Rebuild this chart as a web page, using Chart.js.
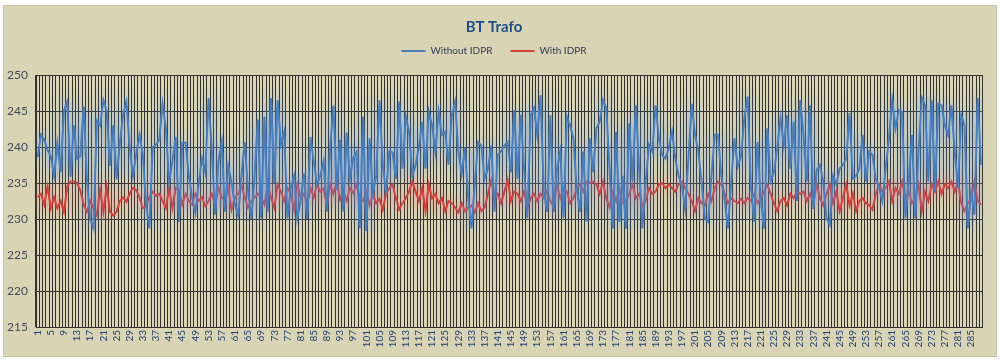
<!DOCTYPE html>
<html>
<head>
<meta charset="utf-8">
<script src="https://cdn.jsdelivr.net/npm/chart.js@4.4.0/dist/chart.umd.min.js"></script>
<style>
html,body{margin:0;padding:0;background:#fff;}
#box{position:absolute;left:3px;top:5px;width:994px;height:352px;background:#d9d4b6;border:1px solid #c9c4a8;box-sizing:border-box;}
</style>
</head>
<body>
<div id="box"><canvas id="myChart"></canvas></div>
<script>
const chartTitle = 'BT Trafo';
const seriesNames = ['Without IDPR', 'With IDPR'];

const withoutIdpr = [
  238.6, 241.7, 241, 239.6, 238.7, 236, 240.5, 236.5, 245.1, 246.3, 235.8, 243, 238.4, 238.7, 245.6, 235.4, 229.9, 228.7, 243.7, 243, 246.5, 245, 237.4, 243, 235.5, 240.5, 244.5,
  246.3, 240, 236, 239, 241.7, 238.9, 232, 228.7, 240, 240.3, 241, 246, 242.6, 235.2, 238, 241.4, 229.6, 240.6, 240.6, 236, 233, 230.8, 235, 238.4, 236.5, 246.8, 239.5, 230.6, 238, 240.7,
  231, 237.3, 235, 232, 230.5, 236, 240.7, 234, 230, 236, 243.8, 230.1, 244.2, 231, 246.8, 235, 246.5, 240.4, 242.1, 230.1, 234.3, 236, 230.1, 232.5, 236.3, 230, 241.4, 238, 234.8, 236,
  238, 231, 240, 245.8, 234, 241, 231, 242, 235.6, 238.5, 239.3, 228.7, 244.2, 228.3, 241.2, 233.6, 236, 246.5, 237.5, 233.6, 239.4, 239.2, 235.6, 246.3, 237, 244.2, 242.1, 236, 237.5, 240,
  243.5, 237, 244.9, 243, 239.4, 244.9, 241.7, 242.1, 237.5, 244.4, 246.3, 239.4, 236.3, 239.9, 233, 228.7, 235, 240.7, 240.2, 235.6, 237, 240.2, 231, 238.9, 239.4, 240.2, 240.7, 236.5, 245.1, 235.6,
  244.5, 236.9, 230.1, 244.4, 245.4, 241.7, 247.2, 233.8, 231, 244.4, 231, 237, 239.4, 230.1, 244.2, 243, 241.2, 234.3, 231, 239.4, 229.6, 241.2, 236.5, 242.6, 243.5, 246.5, 245.4, 237, 228.7, 242.1,
  229.6, 236, 228.7, 243.3, 235.2, 245.8, 237, 228.7, 235.2, 240.3, 239.4, 245.8, 241.2, 238.9, 238.4, 239.8, 242.1, 238.4, 236, 234.6, 231.4, 238.4, 246, 241.7, 239.4, 235.2, 230.1, 229.6, 236, 241.7,
  241.7, 236, 232.8, 228.7, 235.2, 241.2, 237.3, 238.7, 244, 247, 234.6, 229.6, 240.7, 232.8, 228.7, 242.6, 235.2, 236.5, 239.8, 244, 240.3, 244.4, 237, 243.5, 232.5, 246.5, 241.7, 235.2, 245.8, 231.4,
  236.8, 237.5, 235.2, 230.1, 229.2, 236, 234.8, 237, 237.5, 238.4, 244.7, 235.6, 236, 237, 241.7, 235.2, 239.4, 238.9, 235.6, 234.3, 232.5, 237, 241.2, 246.5, 242.6, 245.1, 244.9, 230.1, 235.2, 241.7,
  230.1, 239.4, 246.8, 245.8, 235.2, 246.5, 233.8, 246, 245.8, 243, 241.7, 245.8, 239.4, 234.3, 244.4, 243, 228.7, 233.8, 230.6, 246.8, 237.5
];

const withIdpr = [
  233, 233.5, 232, 234.5, 231.5, 233, 231.5, 232.5, 231, 234.5, 235.2, 235.2, 235, 234, 232, 231, 232.5, 231.5, 230.5, 234, 231, 234.5, 231, 230.5, 231, 232.5, 233,
  232.4, 233.5, 234.3, 234, 233, 231.5, 231.8, 233, 233.8, 233.2, 233.5, 232.5, 231.5, 234.3, 231.5, 234.3, 234, 232, 233.5, 232.5, 232, 233.5, 232.5, 233, 231.8, 232.5, 233.5, 232, 234.3, 233,
  232.5, 234.3, 231.3, 233, 233.5, 234.8, 233, 231.6, 232.5, 233, 233.5, 233, 232, 234.8, 233, 231.6, 234.8, 233.8, 232.5, 234.3, 233.5, 231.3, 234.8, 233, 233.5, 232, 234.3, 233, 234.8, 233.8,
  234.3, 231.9, 234.8, 233.5, 235.2, 232.7, 233.8, 232.5, 234.3, 233.6, 234.8, 232.9, 232.5, 233.8, 231.9, 233.5, 232.2, 232.8, 231.3, 233.5, 234.3, 234.8, 232.9, 231.3, 232.2, 232.9, 233.8, 235.2, 233.8, 232.5,
  234.3, 231.1, 234.8, 232.9, 233.5, 232.2, 232.9, 231.1, 232.5, 232.2, 231.6, 230.9, 232.2, 231.1, 231.6, 231.9, 230.9, 232.2, 231.1, 231.6, 233.5, 235.4, 232.9, 233.5, 232.2, 233.8, 235.4, 232.5, 233.8, 233.5,
  232.5, 233.8, 231.6, 232.9, 233.5, 232.5, 233.5, 232.9, 233.8, 232.5, 231.6, 234.8, 232.9, 234.3, 233.8, 232.2, 232.9, 234.3, 234.8, 233.8, 235.2, 235, 235.2, 234.8, 233.5, 235.2, 232.9, 231.6, 233.8, 232.5,
  234.3, 232.2, 232.5, 233.5, 234.8, 232.9, 233.5, 231.9, 232.5, 234.3, 233.5, 233.8, 234.8, 235, 234.3, 234.8, 234.3, 233.8, 234.8, 235.2, 234.3, 233.5, 232.5, 231.1, 232.9, 232.2, 231.9, 233.5, 232.5, 234.3,
  235.2, 234.8, 233.5, 232.2, 232.9, 232.5, 232.2, 232.8, 232.2, 232.9, 232.5, 233.5, 232.2, 232.9, 233.8, 234.8, 233.5, 232.2, 231.1, 232.5, 232.9, 231.9, 233.5, 232.9, 233.8, 233.5, 233.8, 232.5, 233.5, 232.2,
  234.8, 232.9, 231.9, 233.5, 234.8, 232.2, 233.8, 231.1, 232.9, 234.8, 231.9, 233.5, 231.1, 232.5, 232.9, 232.2, 231.9, 231.3, 233.5, 234.8, 233.8, 234.3, 235.2, 232.5, 234.3, 233.5, 235.2, 232.9, 233.8, 232.2,
  232.9, 234.8, 231.1, 233.8, 232.5, 234.8, 233.8, 235.2, 233.5, 234.8, 234.3, 235.2, 233.8, 235.2, 232.2, 231.1, 232.2, 232.9, 235.2, 232.5, 232
];

// x labels are the sample numbers 1..n
const categories = withoutIdpr.map((v, i) => String(i + 1));
const yMin = 215, yMax = 250, yStep = 5;

const gridCol = '#33332b';

// soft glow round the lines, like the Excel effect
const glow = {
  id: 'glow',
  beforeDatasetDraw(chart, args) {
    const c = chart.ctx;
    c.save();
    c.shadowColor = args.index === 0 ? 'rgba(90,150,235,1)' : 'rgba(240,110,110,0.9)';
    c.shadowBlur = 14;
  },
  afterDatasetDraw(chart) {
    chart.ctx.restore();
  }
};

// wide gaps between legend items but legend sits close under the title
const legendTweak = {
  id: 'legendTweak',
  beforeInit(chart) {
    const lg = chart.legend;
    const fit = lg.fit;
    lg.fit = function () {
      fit.bind(lg)();
      this.height -= 3;
    };
    const draw = lg.draw;
    lg.draw = function () {
      const c = this.ctx;
      c.save();
      c.translate(0, -12);
      draw.apply(this, arguments);
      c.restore();
    };
  }
};

const ctx = document.getElementById('myChart');
new Chart(ctx, {
  type: 'line',
  data: {
    labels: categories,
    datasets: [{
      label: seriesNames[0],
      data: withoutIdpr,
      borderColor: '#4a7ebb',
      backgroundColor: '#4a7ebb',
      borderWidth: 2,
      pointRadius: 0,
      tension: 0
    }, {
      label: seriesNames[1],
      data: withIdpr,
      borderColor: '#d0413d',
      backgroundColor: '#d0413d',
      borderWidth: 2,
      pointRadius: 0,
      tension: 0
    }]
  },
  options: {
    responsive: true,
    maintainAspectRatio: false,
    animation: false,
    layout: { padding: { left: 0, right: 12, top: 0, bottom: 0 } },
    plugins: {
      title: {
        display: true,
        text: chartTitle,
        color: '#1f4e86',
        font: { family: 'Lato', size: 15, weight: 'bold' },
        padding: { top: 12, bottom: 4 }
      },
      legend: {
        labels: {
          color: '#2f3b52',
          font: { family: 'Lato', size: 10 },
          usePointStyle: true,
          pointStyle: 'line',
          pointStyleWidth: 24,
          padding: 18
        }
      },
      tooltip: { enabled: false }
    },
    scales: {
      x: {
        offset: true,
        grid: { color: gridCol, lineWidth: 1, offset: true, drawTicks: false },
        border: { color: gridCol },
        ticks: {
          autoSkip: false,
          maxRotation: 90,
          minRotation: 90,
          padding: 3,
          color: '#24406e',
          font: { family: 'Lato', size: 10 },
          callback: function (val, idx) { return idx % 4 === 0 ? categories[idx] : ''; }
        },
        afterFit: function (scale) { scale.height = 29; }
      },
      y: {
        min: yMin,
        max: yMax,
        grid: { color: gridCol, lineWidth: 1, drawTicks: false },
        border: { color: gridCol },
        ticks: {
          stepSize: yStep,
          padding: 8,
          color: '#404a58',
          font: { family: 'Lato', size: 12 }
        },
        afterFit: function (scale) { scale.width = 32; }
      }
    }
  },
  plugins: [glow, legendTweak]
});
</script>
</body>
</html>
